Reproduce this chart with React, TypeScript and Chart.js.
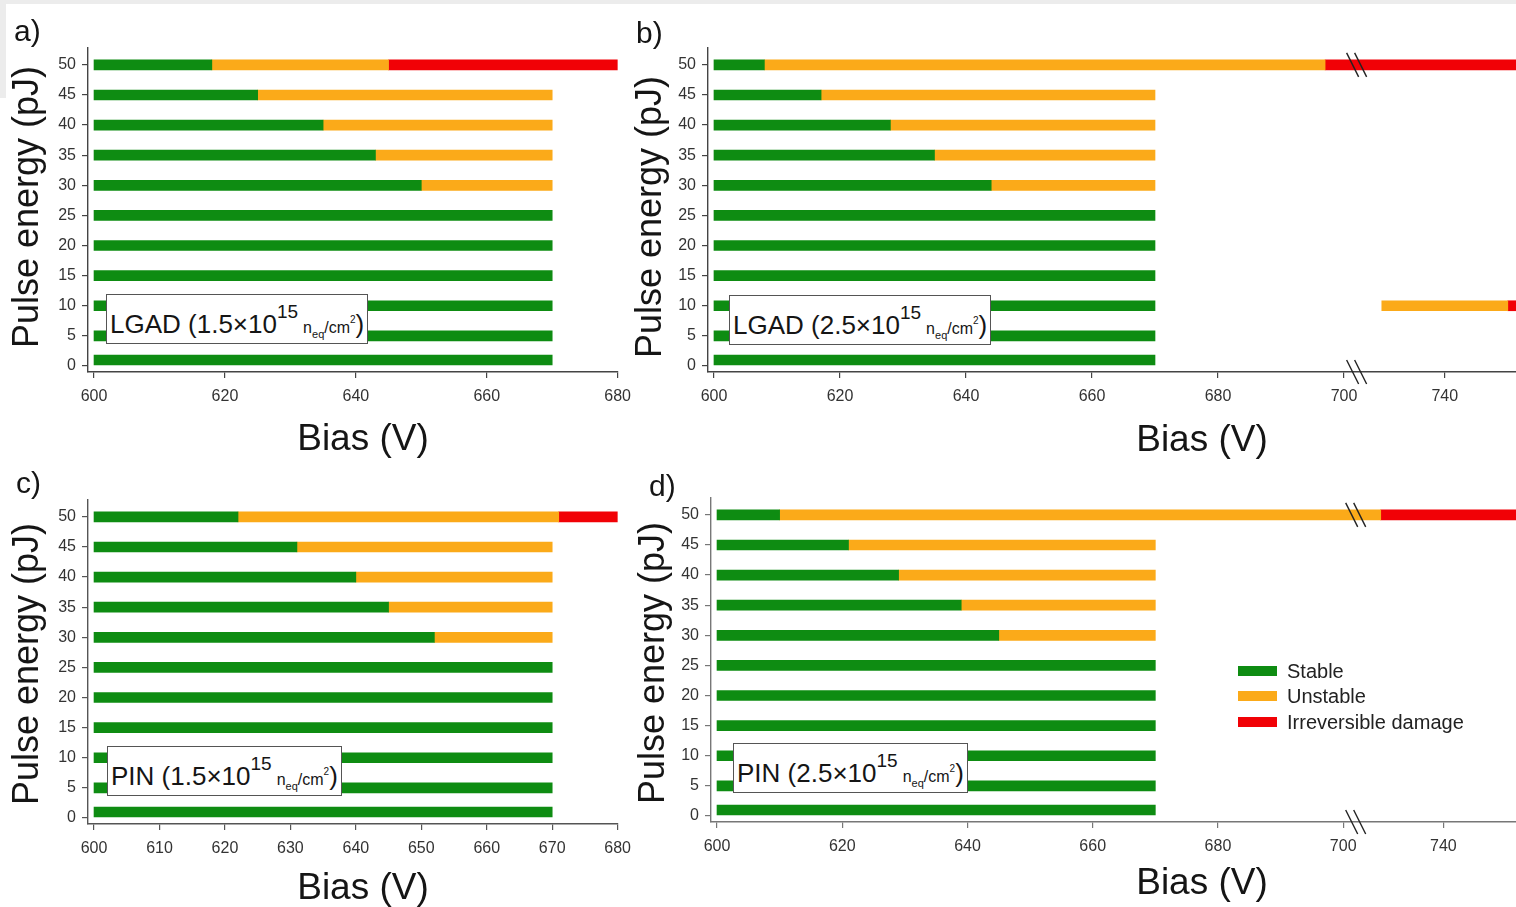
import React, { useEffect, useRef } from 'react';
import { Chart, registerables } from 'chart.js';

Chart.register(...registerables);

const FONT = "'Liberation Sans', Arial, Helvetica, sans-serif";
Chart.defaults.font.family = FONT;

// ---------- data ----------
const SERIES_LABELS = ['Stable', 'Unstable', 'Irreversible damage'];
const SERIES_COLORS = ['#0e8c12', '#fbaa19', '#f10106'];

const Y_TICKS = [0, 5, 10, 15, 20, 25, 30, 35, 40, 45, 50];
const X_TICKS_A = [600, 620, 640, 660, 680];
const X_TICKS_C = [600, 610, 620, 630, 640, 650, 660, 670, 680];
const X_TICKS_BROKEN = [600, 620, 640, 660, 680, 700, 740];

// axis break (in volts): values between BREAK_FROM and BREAK_TO are skipped
const BREAK_FROM = 702;
const BREAK_TO = 726;

// segments: [pulse energy (pJ), bias start (V), bias end (V)]
const A_STABLE = [[1, 600, 670], [5, 600, 670], [10, 600, 670], [15, 600, 670], [20, 600, 670], [25, 600, 670], [30, 600, 650], [35, 600, 643], [40, 600, 635], [45, 600, 625], [50, 600, 618]];
const A_UNSTABLE = [[30, 650, 670], [35, 643, 670], [40, 635, 670], [45, 625, 670], [50, 618, 645]];
const A_DAMAGE = [[50, 645, 680]];

const B_STABLE = [[1, 600, 670], [5, 600, 670], [10, 600, 670], [15, 600, 670], [20, 600, 670], [25, 600, 670], [30, 600, 644], [35, 600, 635], [40, 600, 628], [45, 600, 617], [50, 600, 608]];
const B_UNSTABLE = [[10, 730, 750], [30, 644, 670], [35, 635, 670], [40, 628, 670], [45, 617, 670], [50, 608, 697]];
const B_DAMAGE = [[10, 750, 752], [50, 697, 752]];

const C_STABLE = [[1, 600, 670], [5, 600, 670], [10, 600, 670], [15, 600, 670], [20, 600, 670], [25, 600, 670], [30, 600, 652], [35, 600, 645], [40, 600, 640], [45, 600, 631], [50, 600, 622]];
const C_UNSTABLE = [[30, 652, 670], [35, 645, 670], [40, 640, 670], [45, 631, 670], [50, 622, 671]];
const C_DAMAGE = [[50, 671, 680]];

const D_STABLE = [[1, 600, 670], [5, 600, 670], [10, 600, 670], [15, 600, 670], [20, 600, 670], [25, 600, 670], [30, 600, 645], [35, 600, 639], [40, 600, 629], [45, 600, 621], [50, 600, 610]];
const D_UNSTABLE = [[30, 645, 670], [35, 639, 670], [40, 629, 670], [45, 621, 670], [50, 610, 730]];
const D_DAMAGE = [[50, 730, 752]];

// ---------- helpers ----------
const toAxis = (v: number, broken: boolean) =>
  !broken || v <= BREAK_FROM ? v : v - (BREAK_TO - BREAK_FROM);
const fromAxis = (v: number, broken: boolean) =>
  !broken || v <= BREAK_FROM ? v : v + (BREAK_TO - BREAK_FROM);

type PanelCfg = {
  left: number; top: number; w: number; h: number;
  padTop: number; padRight: number; yWidth: number;
  xMin: number; xMax: number; xTicks: number[]; broken: boolean;
  axisColor: string;
  series: number[][][];
};

const breakPlugin = {
  id: 'breakMarks',
  afterDatasetsDraw(chart: any, _args: any, opts: any) {
    if (!opts || !opts.enabled) return;
    const { ctx, chartArea } = chart;
    const xs = chart.scales.x;
    const ys = chart.scales.y;
    const x = xs.getPixelForValue(BREAK_FROM);
    const ysPos = [ys.getPixelForValue(50), chartArea.bottom];
    ctx.save();
    ctx.strokeStyle = '#222';
    ctx.lineWidth = 1.4;
    for (const y of ysPos) {
      for (const dx of [-4, 4]) {
        ctx.beginPath();
        ctx.moveTo(x + dx - 6, y - 12);
        ctx.lineTo(x + dx + 6, y + 12);
        ctx.stroke();
      }
    }
    ctx.restore();
  },
};

function Panel({ cfg }: { cfg: PanelCfg }) {
  const ref = useRef<HTMLCanvasElement>(null);
  useEffect(() => {
    const b = cfg.broken;
    const chart = new Chart(ref.current as HTMLCanvasElement, {
      type: 'bar',
      data: {
        datasets: cfg.series.map((segs, i) => ({
          label: SERIES_LABELS[i],
          data: segs.map(([r, s, e]) => ({ y: r, x: [toAxis(s, b), toAxis(e, b)] })) as any,
          backgroundColor: SERIES_COLORS[i],
          borderWidth: 0,
          barThickness: 10,
          grouped: false,
        })),
      },
      options: {
        indexAxis: 'y',
        responsive: false,
        animation: false,
        events: [],
        layout: { padding: { top: cfg.padTop, right: cfg.padRight, left: 0, bottom: 0 } },
        plugins: {
          legend: { display: false },
          tooltip: { enabled: false },
          breakMarks: { enabled: b },
        } as any,
        scales: {
          x: {
            type: 'linear',
            min: cfg.xMin,
            max: cfg.xMax,
            offset: false,
            afterBuildTicks: (s: any) => {
              s.ticks = cfg.xTicks.map((v) => ({ value: toAxis(v, b) }));
            },
            afterFit: (s: any) => {
              s.height = cfg.h - cfg.padTop - 324;
            },
            ticks: {
              callback: (v: any) => String(Math.round(fromAxis(Number(v), b))),
              font: { size: 16 },
              color: '#333',
              padding: 9,
              maxRotation: 0,
              autoSkip: false,
            },
            grid: { offset: false, drawOnChartArea: false, drawTicks: true, tickLength: 6, color: cfg.axisColor, lineWidth: 1.2 },
            border: { color: cfg.axisColor, width: 1.4 },
          },
          y: {
            type: 'linear',
            min: -1,
            max: 52.8,
            offset: false,
            afterBuildTicks: (s: any) => {
              s.ticks = Y_TICKS.map((v) => ({ value: v }));
            },
            afterFit: (s: any) => {
              s.width = cfg.yWidth;
            },
            ticks: {
              font: { size: 16 },
              color: '#333',
              padding: 6,
              autoSkip: false,
            },
            grid: { offset: false, drawOnChartArea: false, drawTicks: true, tickLength: 6, color: cfg.axisColor, lineWidth: 1.2 },
            border: { color: cfg.axisColor, width: 1.4 },
          },
        },
      },
      plugins: [breakPlugin],
    } as any);
    return () => chart.destroy();
  }, []);
  return (
    <canvas
      ref={ref}
      width={cfg.w}
      height={cfg.h}
      style={{ position: 'absolute', left: cfg.left, top: cfg.top, width: cfg.w, height: cfg.h }}
    />
  );
}

const PANELS: PanelCfg[] = [
  { left: 0, top: 0, w: 640, h: 420, padTop: 48, padRight: 22, yWidth: 88, xMin: 599.08, xMax: 680, xTicks: X_TICKS_A, broken: false, axisColor: '#444', series: [A_STABLE, A_UNSTABLE, A_DAMAGE] },
  { left: 620, top: 0, w: 896, h: 420, padTop: 48, padRight: 0, yWidth: 88, xMin: 599.05, xMax: 727.3, xTicks: X_TICKS_BROKEN, broken: true, axisColor: '#444', series: [B_STABLE, B_UNSTABLE, B_DAMAGE] },
  { left: 0, top: 452, w: 640, h: 420, padTop: 48, padRight: 22, yWidth: 88, xMin: 599.08, xMax: 680, xTicks: X_TICKS_C, broken: false, axisColor: '#555', series: [C_STABLE, C_UNSTABLE, C_DAMAGE] },
  { left: 620, top: 450, w: 896, h: 420, padTop: 48, padRight: 0, yWidth: 91, xMin: 599.04, xMax: 727.6, xTicks: X_TICKS_BROKEN, broken: true, axisColor: '#777', series: [D_STABLE, D_UNSTABLE, D_DAMAGE] },
];

function Note({ left, top, device, coef }: { left: number; top: number; device: string; coef: string }) {
  return (
    <div
      style={{
        position: 'absolute', left, top, height: 50, boxSizing: 'border-box',
        border: '1px solid #555', background: '#fff', whiteSpace: 'nowrap',
        padding: '16px 3px 0 3px', fontSize: 26, lineHeight: 1, color: '#151515', fontFamily: FONT,
      }}
    >
      <span>{device} ({coef}×10</span>
      <span style={{ fontSize: 19, position: 'relative', top: -15 }}>15</span>
      <span style={{ fontSize: 16, marginLeft: 5 }}>n</span>
      <span style={{ fontSize: 11, position: 'relative', top: 5 }}>eq</span>
      <span style={{ fontSize: 16 }}>/cm</span>
      <span style={{ fontSize: 10, position: 'relative', top: -10 }}>2</span>
      <span>)</span>
    </div>
  );
}

const textBase: React.CSSProperties = { position: 'absolute', fontFamily: FONT, color: '#151515', lineHeight: 1, whiteSpace: 'nowrap' };

function BiasTitle({ cx, cy }: { cx: number; cy: number }) {
  return <div style={{ ...textBase, left: cx, top: cy, fontSize: 37, transform: 'translate(-50%, -50%)' }}>Bias (V)</div>;
}
function EnergyTitle({ cx, cy }: { cx: number; cy: number }) {
  return <div style={{ ...textBase, left: cx, top: cy, fontSize: 36, transform: 'translate(-50%, -50%) rotate(-90deg)' }}>Pulse energy (pJ)</div>;
}
function PanelLabel({ x, y, t }: { x: number; y: number; t: string }) {
  return <div style={{ ...textBase, left: x, top: y, fontSize: 30 }}>{t}</div>;
}

export default function App() {
  return (
    <div style={{ position: 'absolute', left: 0, top: 0, width: 1516, height: 907, background: '#fff', overflow: 'hidden' }}>
      <div style={{ position: 'absolute', left: 0, top: 0, width: 1516, height: 4, background: '#ececec' }} />
      <div style={{ position: 'absolute', left: 0, top: 0, width: 6, height: 98, background: '#ececec' }} />
      {PANELS.map((p, i) => <Panel key={i} cfg={p} />)}

      <PanelLabel x={14} y={16} t="a)" />
      <PanelLabel x={636} y={18} t="b)" />
      <PanelLabel x={16} y={468} t="c)" />
      <PanelLabel x={649} y={471} t="d)" />

      <BiasTitle cx={363} cy={437} />
      <BiasTitle cx={1202} cy={438} />
      <BiasTitle cx={363} cy={886} />
      <BiasTitle cx={1202} cy={881} />

      <EnergyTitle cx={26} cy={207} />
      <EnergyTitle cx={649} cy={217} />
      <EnergyTitle cx={26} cy={664} />
      <EnergyTitle cx={652} cy={663} />

      <Note left={106} top={294} device="LGAD" coef="1.5" />
      <Note left={729} top={295} device="LGAD" coef="2.5" />
      <Note left={107} top={746} device="PIN" coef="1.5" />
      <Note left={733} top={743} device="PIN" coef="2.5" />

      <div style={{ position: 'absolute', left: 1238, top: 658, fontFamily: FONT }}>
        {SERIES_LABELS.map((l, i) => (
          <div key={l} style={{ display: 'flex', alignItems: 'center', height: 25.5 }}>
            <div style={{ width: 39, height: 10, background: SERIES_COLORS[i] }} />
            <div style={{ marginLeft: 10, fontSize: 20, color: '#222', lineHeight: 1 }}>{l}</div>
          </div>
        ))}
      </div>
    </div>
  );
}
